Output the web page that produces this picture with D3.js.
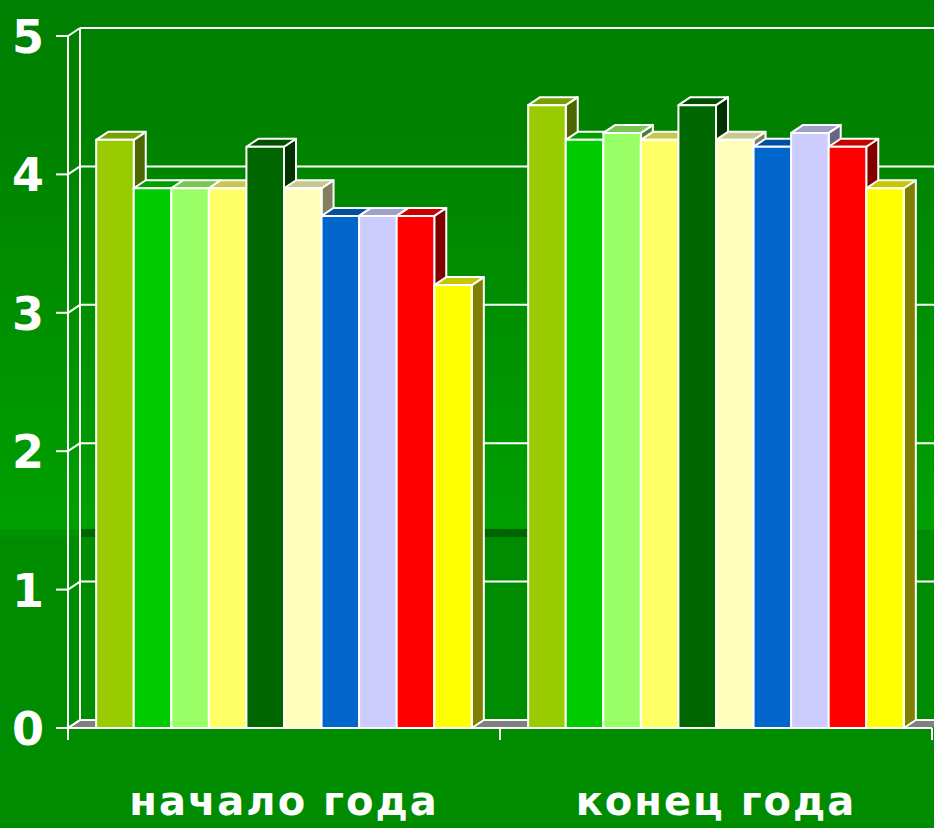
<!DOCTYPE html>
<html>
<head>
<meta charset="utf-8">
<script src="https://cdn.jsdelivr.net/npm/d3@7"></script>
<style>
    html, body { margin: 0; padding: 0; background: #008c00; }
    svg { display: block; }
    text { font-family: "Comic Sans MS", "DejaVu Sans", sans-serif; font-weight: bold; fill: #fff; }
</style>
</head>
<body>
<div id="chart"></div>
<script>
const categories = ['начало года', 'конец года']
const seriesColors = ['#99cc00', '#00cc00', '#99ff66', '#ffff66', '#006600',
    '#ffffbb', '#0066cc', '#ccccff', '#ff0000', '#ffff00']
// one value per category for each of the 10 series
const startValues = [4.25, 3.9, 3.9, 3.9, 4.2, 3.9, 3.7, 3.7, 3.7, 3.2]
const endValues = [4.5, 4.25, 4.3, 4.25, 4.5, 4.25, 4.2, 4.3, 4.2, 3.9]
const yTicks = [0, 1, 2, 3, 4, 5]

const WIDTH = 934
const HEIGHT = 828
const DX = 12   // depth offset of the 3d box
const DY = -8

const values = [startValues, endValues]

const svg = d3.select('#chart')
    .append('svg')
    .attr('width', WIDTH)
    .attr('height', HEIGHT)

// Slide background
const defs = svg.append('defs')
const grad = defs.append('linearGradient')
    .attr('id', 'bg-grad')
    .attr('x1', 0).attr('y1', 0).attr('x2', 0).attr('y2', 1)
grad.append('stop').attr('offset', '0%').attr('stop-color', '#008000')
grad.append('stop').attr('offset', '25%').attr('stop-color', '#008200')
grad.append('stop').attr('offset', '100%').attr('stop-color', '#00a000')

svg.append('rect')
    .attr('width', WIDTH).attr('height', 530)
    .attr('fill', 'url(#bg-grad)')
svg.append('rect')
    .attr('y', 530).attr('width', WIDTH).attr('height', HEIGHT - 530)
    .attr('fill', '#008c00')
svg.append('rect')
    .attr('y', 529).attr('width', 80).attr('height', 8)
    .attr('fill', '#009200')
svg.append('rect')
    .attr('x', 80).attr('y', 529).attr('width', 450).attr('height', 8)
    .attr('fill', '#006400')

const x0 = d3.scaleBand().domain(categories).range([68, 932])
const x1 = d3.scaleBand()
    .domain(d3.range(seriesColors.length))
    .range([0, x0.bandwidth()])
    .paddingInner(0)
    .paddingOuter(0.75)
const y = d3.scaleLinear().domain([0, 5]).range([728, 36])

const line = (x1_, y1_, x2_, y2_) => svg.append('line')
    .attr('x1', x1_).attr('y1', y1_).attr('x2', x2_).attr('y2', y2_)
    .attr('stroke', '#fff').attr('stroke-width', 2)

const [xl, xr] = x0.range()

// Floor
svg.append('path')
    .attr('d', `M${xl},${y(0)}L${xl + DX},${y(0) + DY}L${xr + DX},${y(0) + DY}L${xr},${y(0)}Z`)
    .attr('fill', '#808080')

// Back wall gridlines, left wall and axis
yTicks.forEach(t => {
    if (t > 0) line(xl + DX, y(t) + DY, xr + DX, y(t) + DY)
    line(xl, y(t), xl + DX, y(t) + DY)
    line(xl - 12, y(t), xl, y(t))
})
line(xl + DX, y(5) + DY, xl + DX, y(0) + DY)
line(xl + DX, y(0) + DY, xr + DX, y(0) + DY)

svg.selectAll('.y-label')
    .data(yTicks)
    .enter()
    .append('text')
    .attr('class', 'y-label')
    .attr('x', 28)
    .attr('y', d => y(d) + 17)
    .attr('text-anchor', 'middle')
    .attr('font-size', 46)
    .text(d => d)

// Bars
const shade = (c, k) => {
    const rgb = d3.rgb(c)
    return d3.rgb(rgb.r * k, rgb.g * k, rgb.b * k).formatHex()
}

categories.forEach((cat, ci) => {
    values[ci].forEach((v, si) => {
        const bx = x0(cat) + x1(si)
        const bw = x1.bandwidth()
        const top = y(v)
        const base = y(0)
        const g = svg.append('g').attr('class', 'bar')
            .attr('stroke', '#fff').attr('stroke-width', 2).attr('stroke-linejoin', 'round')
        g.append('path')
            .attr('d', `M${bx + bw},${top}L${bx + bw + DX},${top + DY}L${bx + bw + DX},${base + DY}L${bx + bw},${base}Z`)
            .attr('fill', shade(seriesColors[si], 0.5))
        g.append('path')
            .attr('d', `M${bx},${top}L${bx + DX},${top + DY}L${bx + bw + DX},${top + DY}L${bx + bw},${top}Z`)
            .attr('fill', shade(seriesColors[si], 0.78))
        g.append('rect')
            .attr('x', bx).attr('y', top)
            .attr('width', bw).attr('height', base - top)
            .attr('fill', seriesColors[si])
    })
})

// Front axes
line(xl, y(5), xl, y(0) + 12)
line(xl, y(0), xr, y(0))
line(xl, y(0), xl + DX, y(0) + DY)
categories.forEach(cat => line(x0(cat) + x0.bandwidth(), y(0), x0(cat) + x0.bandwidth(), y(0) + 12))

svg.selectAll('.x-label')
    .data(categories)
    .enter()
    .append('text')
    .attr('class', 'x-label')
    .attr('x', d => x0(d) + x0.bandwidth() / 2)
    .attr('y', 815)
    .attr('text-anchor', 'middle')
    .attr('font-size', 40)
    .attr('letter-spacing', 2)
    .text(d => d)
</script>
</body>
</html>
